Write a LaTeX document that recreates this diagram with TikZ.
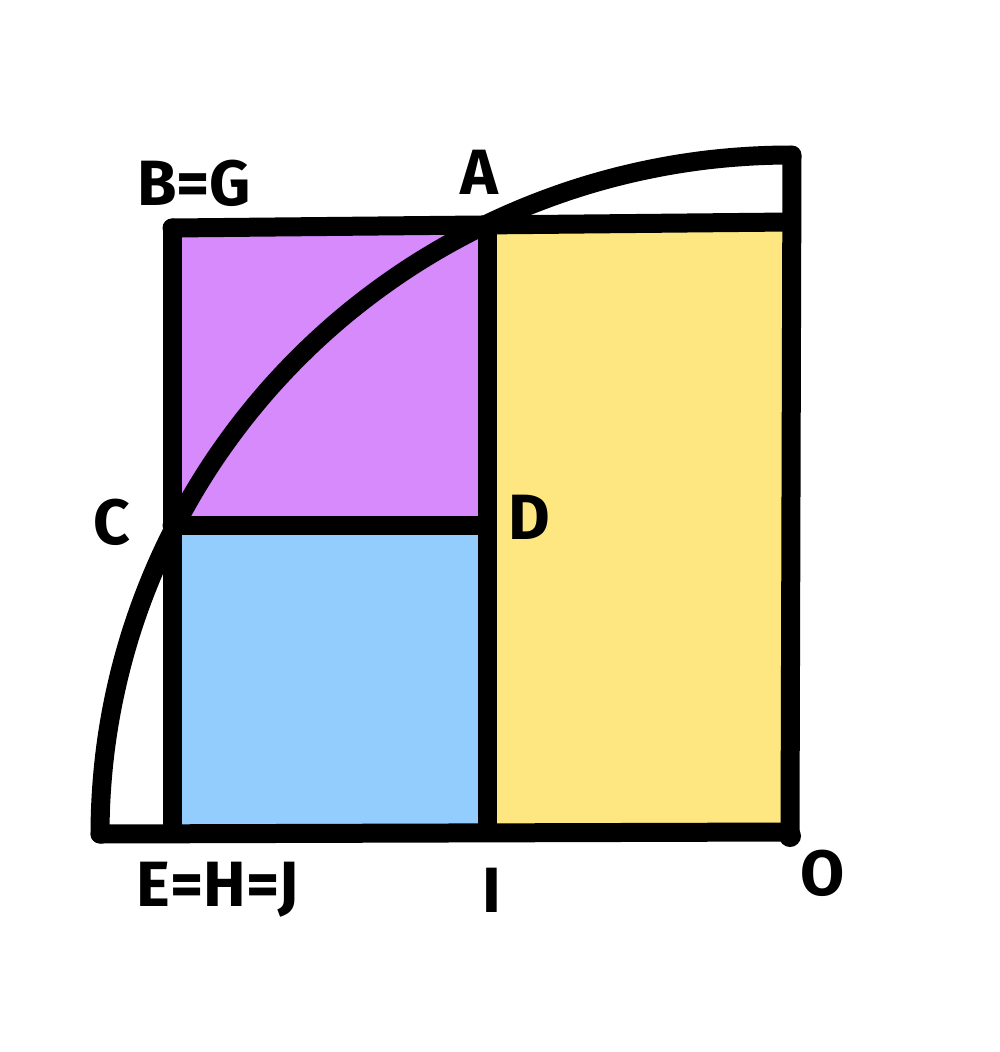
\documentclass[tikz,border=0pt]{standalone}
\usepackage{fontspec}
\setsansfont{Fira Sans}
\begin{document}
\begin{tikzpicture}[x=1pt,y=-1pt]
\definecolor{purp}{RGB}{214,138,252}
\definecolor{blu}{RGB}{146,205,254}
\definecolor{yel}{RGB}{254,231,128}
\tikzset{
  edge/.style={line width=19pt, line cap=round, line join=round, black},
  lab/.style={font=\sffamily\bfseries\fontsize{64}{64}\selectfont, inner sep=0pt, anchor=center}
}
\useasboundingbox (0,0) rectangle (1000,1052);
\fill[white] (0,0) rectangle (1000,1052);
% points
\coordinate (BG) at (172,228);
\coordinate (A) at (487,226);
\coordinate (TR) at (790,222);
\coordinate (C) at (172,525);
\coordinate (D) at (487,525);
\coordinate (E) at (172,832);
\coordinate (I) at (487,832);
\coordinate (O) at (790,832);
\coordinate (L) at (100,834);
\coordinate (T) at (792,155);
% fills
\fill[purp] (BG) rectangle (D);
\fill[blu] (C) rectangle (I);
\fill[yel] (A) -- (TR) -- (O) -- (I) -- cycle;
% edges
\draw[edge] (L) -- (O);
\draw[edge] (BG) -- (E);
\draw[edge] (A) -- (I);
\draw[edge] (T) -- (O);
\draw[edge] (BG) -- (TR);
\draw[edge] (C) -- (D);
\draw[edge] plot[domain=180:270, samples=80, smooth] ({790+690*cos(\x)}, {834+679*sin(\x)});
\fill (790,836) circle (11pt);
% labels
\node[lab] (lBG) at (194,183) {B=G};
\node[lab] (lA) at (479,172) {A};
\node[lab] (lC) at (112,522) {C};
\node[lab] (lD) at (529,517) {D};
\node[lab] (lE) at (218,890) {E=H=J};
\node[lab] (lI) at (492,890) {I};
\node[lab] (lO) at (823,873) {O};
\end{tikzpicture}
\end{document}
